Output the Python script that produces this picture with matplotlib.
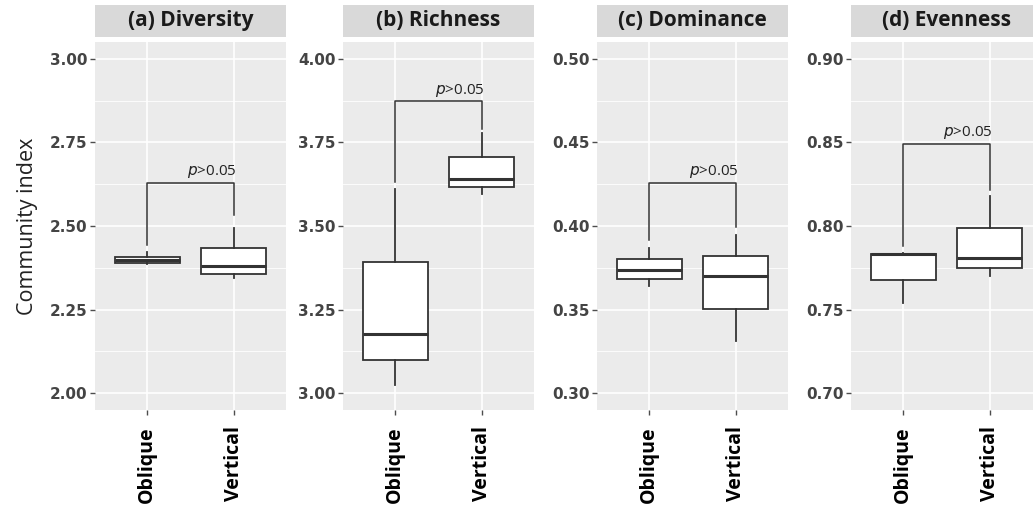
import matplotlib
matplotlib.use("Agg")
import matplotlib.pyplot as plt
from matplotlib.patches import Rectangle
from matplotlib.ticker import MultipleLocator, FormatStrFormatter

groups = ["Oblique", "Vertical"]
titles = ["(a) Diversity", "(b) Richness", "(c) Dominance", "(d) Evenness"]

# box statistics per panel: [Oblique, Vertical]
div_low = [2.385, 2.345]
div_q1 = [2.390, 2.358]
div_med = [2.397, 2.379]
div_q3 = [2.408, 2.435]
div_high = [2.423, 2.493]

rich_low = [3.025, 3.597]
rich_q1 = [3.099, 3.616]
rich_med = [3.176, 3.639]
rich_q3 = [3.391, 3.707]
rich_high = [3.612, 3.778]

dom_low = [0.3643, 0.3312]
dom_q1 = [0.3682, 0.3503]
dom_med = [0.3734, 0.3703]
dom_q3 = [0.3800, 0.3822]
dom_high = [0.3870, 0.3949]

even_low = [0.7537, 0.7700]
even_q1 = [0.7680, 0.7750]
even_med = [0.7830, 0.7810]
even_q3 = [0.7832, 0.7991]
even_high = [0.7840, 0.8180]

# significance brackets
bracket_y = [2.629, 3.873, 0.4258, 0.8492]
tip_left = [2.443, 3.632, 0.3915, 0.788]
tip_right = [2.532, 3.791, 0.3995, 0.8214]
p_label = "$\\it{p}$>0.05"

y_ticks = [
    [2.00, 2.25, 2.50, 2.75, 3.00],
    [3.00, 3.25, 3.50, 3.75, 4.00],
    [0.30, 0.35, 0.40, 0.45, 0.50],
    [0.70, 0.75, 0.80, 0.85, 0.90],
]

stats_sets = [
    (div_low, div_q1, div_med, div_q3, div_high),
    (rich_low, rich_q1, rich_med, rich_q3, rich_high),
    (dom_low, dom_q1, dom_med, dom_q3, dom_high),
    (even_low, even_q1, even_med, even_q3, even_high),
]

W, H = 1033, 507
fig = plt.figure(figsize=(W / 100, H / 100), dpi=100)
fig.patch.set_facecolor("white")

panel_left = [95, 343, 597, 851]
panel_w, panel_top, panel_bot = 191, 42, 410
strip_h, strip_gap = 32, 5

for i in range(4):
    x0 = panel_left[i]
    ax = fig.add_axes([x0 / W, 1 - panel_bot / H, panel_w / W, (panel_bot - panel_top) / H])
    ax.set_facecolor("#EBEBEB")
    for s in ax.spines.values():
        s.set_visible(False)

    low, q1, med, q3, high = stats_sets[i]
    stats = []
    for j in range(2):
        stats.append({"whislo": low[j], "q1": q1[j], "med": med[j], "q3": q3[j],
                      "whishi": high[j], "fliers": [], "label": groups[j]})
    ax.bxp(stats, positions=[1, 2], widths=0.75, showcaps=False, patch_artist=True,
           boxprops=dict(facecolor="white", edgecolor="#333333", linewidth=1.3),
           whiskerprops=dict(color="#333333", linewidth=1.3),
           medianprops=dict(color="#333333", linewidth=2.2),
           zorder=3)

    ax.plot([1, 1, 2, 2], [tip_left[i], bracket_y[i], bracket_y[i], tip_right[i]],
            color="#333333", linewidth=1.1, zorder=4)
    yr = y_ticks[i][-1] - y_ticks[i][0]
    ax.text(2.03, bracket_y[i] + yr * 0.008, p_label, ha="right", va="bottom",
            fontsize=11, family="Open Sans", color="#222222")

    ax.set_xlim(0.4, 2.6)
    ax.set_ylim(y_ticks[i][0] - 0.05 * yr, y_ticks[i][-1] + 0.05 * yr)
    ax.set_yticks(y_ticks[i])
    ax.yaxis.set_minor_locator(MultipleLocator(yr / 8))
    ax.yaxis.set_major_formatter(FormatStrFormatter("%.2f"))
    ax.set_xticks([1, 2])
    ax.set_xticklabels(groups, rotation=90, fontsize=14, fontweight="bold",
                       family="Open Sans", color="black")
    for lab in ax.get_yticklabels():
        lab.set_fontweight("bold")
        lab.set_fontsize(11)
        lab.set_color("#444444")
    ax.tick_params(axis="y", which="major", length=3.5, width=1.0, color="#4D4D4D", pad=2)
    ax.tick_params(axis="x", which="major", length=3.5, width=1.0, color="#4D4D4D", pad=8)
    ax.tick_params(which="minor", length=0)
    ax.grid(True, which="major", color="white", linewidth=1.2, zorder=0)
    ax.grid(True, which="minor", axis="y", color="white", linewidth=0.6, zorder=0)
    ax.set_axisbelow(True)

    ph = panel_bot - panel_top
    ax.add_patch(Rectangle((0, 1 + strip_gap / ph), 1, strip_h / ph, transform=ax.transAxes,
                           facecolor="#D9D9D9", edgecolor="none", clip_on=False))
    ax.text(0.5, 1 + (strip_gap + strip_h / 2) / ph, titles[i], transform=ax.transAxes,
            ha="center", va="center", fontsize=15, fontweight="bold",
            family="Open Sans", color="#1A1A1A")

    if i == 0:
        ax.set_ylabel("Community index", fontsize=15.5, family="Open Sans",
                      color="#222222", labelpad=8)

fig.savefig("out.png", dpi=100)
